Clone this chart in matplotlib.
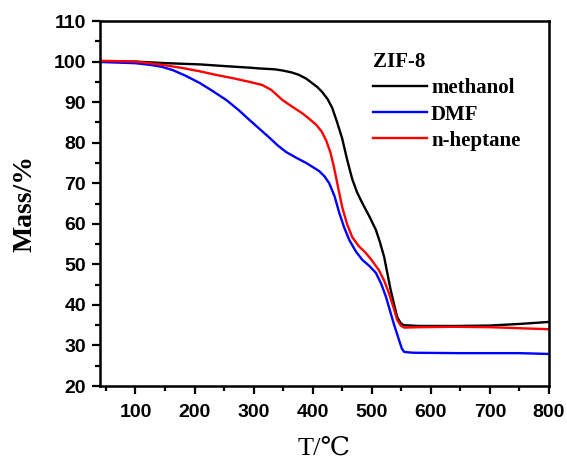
import matplotlib
matplotlib.use("Agg")
import matplotlib.pyplot as plt
from matplotlib.ticker import MultipleLocator

# TGA curves of ZIF-8 soaked in different solvents (temperature in °C, mass in %)
T_methanol = [40, 100, 153, 209, 260, 293, 310, 335, 349, 365, 377, 389, 399,
              408, 416, 425, 433, 441, 450, 458, 467, 475, 484, 496, 507, 514,
              521, 532, 543, 549, 554, 580, 640, 698, 750, 800]
M_methanol = [100.1, 100.0, 99.6, 99.3, 98.8, 98.5, 98.3, 98.1, 97.8, 97.3,
              96.7, 95.8, 94.7, 93.7, 92.5, 90.8, 88.6, 85.2, 81.0, 76.0,
              71.0, 67.8, 65.1, 61.8, 58.5, 55.4, 51.8, 43.7, 37.0, 35.5,
              35.0, 34.8, 34.8, 34.9, 35.3, 35.8]

T_dmf = [40, 100, 124, 145, 163, 185, 209, 230, 254, 275, 293, 310, 327, 341,
         355, 372, 389, 400, 411, 420, 428, 437, 445, 453, 462, 473, 484, 496,
         507, 516, 524, 537, 546, 551, 555, 570, 650, 750, 800]
M_dmf = [99.9, 99.6, 99.2, 98.7, 97.9, 96.5, 94.7, 92.8, 90.5, 88.0, 85.6,
         83.4, 81.2, 79.3, 77.7, 76.3, 75.0, 74.0, 73.0, 71.7, 70.0, 66.8,
         62.7, 59.2, 56.0, 53.2, 51.1, 49.6, 47.9, 45.2, 42.0, 35.5, 31.4,
         29.2, 28.4, 28.2, 28.1, 28.1, 27.9]

T_heptane = [40, 100, 124, 150, 180, 209, 237, 265, 293, 315, 330, 349, 365,
             382, 394, 406, 415, 423, 430, 436, 443, 450, 458, 467, 478, 490,
             500, 512, 521, 529, 537, 543, 549, 555, 580, 640, 700, 760, 800]
M_heptane = [100.2, 100.0, 99.6, 99.1, 98.4, 97.6, 96.7, 95.9, 95.0, 94.2,
             93.0, 90.5, 88.9, 87.3, 85.9, 84.4, 82.8, 80.5, 77.6, 74.0, 69.0,
             64.1, 60.0, 56.7, 54.5, 52.8, 51.0, 48.6, 46.0, 42.9, 39.3, 36.3,
             34.9, 34.4, 34.5, 34.6, 34.5, 34.2, 34.0]

x_ticks = [100, 200, 300, 400, 500, 600, 700, 800]
y_ticks = [20, 30, 40, 50, 60, 70, 80, 90, 100, 110]

serif = ["Liberation Serif", "DejaVu Serif"]
sans = ["Liberation Sans", "DejaVu Sans"]

fig = plt.figure(figsize=(5.67, 4.62), dpi=100)
ax = fig.add_axes([0.1764, 0.1645, 0.7918, 0.79])

ax.plot(T_methanol, M_methanol, color="black", lw=1.7, label="methanol")
ax.plot(T_dmf, M_dmf, color="#0000ff", lw=1.7, label="DMF")
ax.plot(T_heptane, M_heptane, color="#ff0000", lw=1.7, label="n-heptane")

ax.set_xlim(40, 800)
ax.set_ylim(20, 110)
ax.set_xticks(x_ticks)
ax.set_yticks(y_ticks)
ax.xaxis.set_minor_locator(MultipleLocator(50))
ax.yaxis.set_minor_locator(MultipleLocator(5))

for s in ax.spines.values():
    s.set_linewidth(1.8)
ax.tick_params(which="both", direction="out", width=1.6, top=False, right=False)
ax.tick_params(which="major", length=6)
ax.tick_params(axis="x", which="major", pad=7)
ax.tick_params(axis="y", which="major", pad=4)
ax.tick_params(which="minor", length=3.5)
for lbl in ax.get_xticklabels() + ax.get_yticklabels():
    lbl.set_family(sans)
    lbl.set_fontweight("bold")
    lbl.set_fontsize(14)

ax.set_xlabel("T/\u2103", family=serif, fontsize=19, labelpad=12)
ax.set_ylabel("Mass/%", family=serif, fontsize=20, fontweight="bold", labelpad=12)

leg = ax.legend(title="ZIF-8", frameon=False, loc="upper left",
                bbox_to_anchor=(0.575, 0.955), handlelength=2.6,
                handletextpad=0.2, labelspacing=0.3, borderaxespad=0.3,
                prop={"family": serif, "weight": "bold", "size": 15})
leg.get_title().set_family(serif)
leg.get_title().set_fontweight("bold")
leg.get_title().set_fontsize(15)
leg._legend_box.align = "left"

fig.savefig("out.png", dpi=100)
